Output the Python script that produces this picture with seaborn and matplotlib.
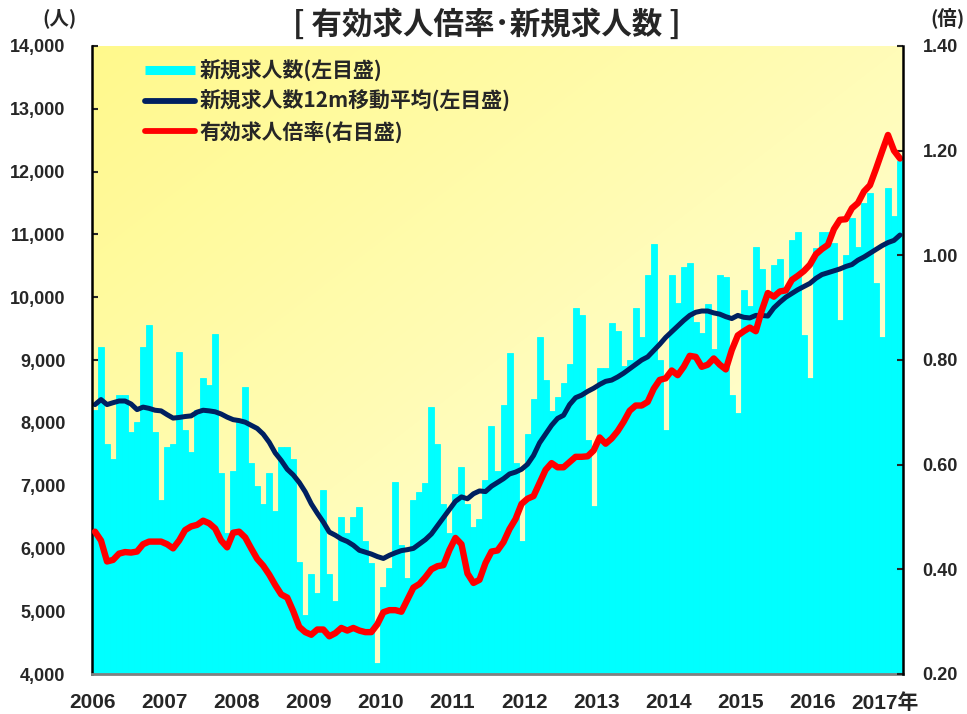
import numpy as np
import pandas as pd
import matplotlib
matplotlib.use("Agg")
import matplotlib.pyplot as plt
import seaborn as sns
from matplotlib.lines import Line2D
from matplotlib.ticker import FuncFormatter

# monthly data, 2006-01 .. 2017-03
new_jobs = [
    8200, 9200, 7660, 7420, 8440, 8440, 7860, 8020, 9200, 9560, 7860, 6770,
    7620, 7660, 9130, 7890, 7530, 8210, 8710, 8600, 9420, 7195, 6240, 7230,
    8010, 8575, 7355, 6994, 6707, 7195, 6600, 7620, 7620, 7420, 5790, 4940,
    5587, 5295, 6930, 5587, 5162, 6505, 6250, 6505, 6665, 6118, 5762, 4180,
    5390, 5693, 7063, 6054, 5523, 6771, 6893, 7036, 8246, 7657, 6707, 6240,
    6866, 7291, 6707, 6346, 6468, 7089, 7949, 7233, 8278, 9106, 7355, 6118,
    7816, 8374, 9361, 8682, 8188, 8416, 8639, 8936, 9823, 9717, 7726, 6675,
    8867, 8867, 9584, 9462, 8900, 9000, 9823, 9372, 10354, 10842, 9000, 7886,
    10354, 9903, 10486, 10540, 9600, 9435, 9892, 9170, 10354, 10317, 8443, 8151,
    10115, 9860, 10805, 10444, 10100, 10513, 10603, 10168, 10911, 11033, 9398, 8708,
    10778, 11033, 11033, 10869, 9637, 10672, 11267, 10805, 11505, 11654, 10221, 9372,
    11734, 11298, 12174,
]

new_jobs_ma = [
    8290, 8370, 8290, 8320, 8347, 8347, 8300, 8210, 8250, 8230, 8200, 8190,
    8130, 8075, 8085, 8100, 8110, 8170, 8200, 8190, 8175, 8140, 8090, 8050,
    8035, 8010, 7960, 7910, 7820, 7690, 7520, 7400, 7260, 7170, 7050, 6900,
    6710, 6560, 6420, 6260, 6210, 6150, 6110, 6050, 5970, 5940, 5910, 5870,
    5840, 5890, 5930, 5965, 5980, 6000, 6070, 6140, 6230, 6360, 6490, 6620,
    6750, 6820, 6790, 6870, 6915, 6905, 6990, 7050, 7110, 7185, 7215, 7260,
    7340, 7480, 7680, 7820, 7960, 8070, 8120, 8290, 8400, 8440, 8500, 8550,
    8610, 8660, 8680, 8730, 8790, 8860, 8930, 9000, 9050, 9150, 9250, 9360,
    9450, 9540, 9630, 9710, 9760, 9780, 9780, 9750, 9730, 9690, 9660, 9710,
    9680, 9670, 9710, 9710, 9700, 9830, 9920, 10000, 10060, 10120, 10170, 10220,
    10300, 10360, 10390, 10420, 10450, 10490, 10520, 10590, 10640, 10700, 10760, 10820,
    10870, 10905, 10990,
]

job_ratio = [
    0.472, 0.455, 0.415, 0.418, 0.430, 0.433, 0.432, 0.434, 0.448, 0.453, 0.453, 0.453,
    0.448, 0.440, 0.455, 0.475, 0.482, 0.485, 0.493, 0.488, 0.478, 0.455, 0.442, 0.470,
    0.472, 0.461, 0.440, 0.420, 0.407, 0.390, 0.370, 0.352, 0.346, 0.320, 0.290, 0.280,
    0.275, 0.285, 0.285, 0.272, 0.278, 0.288, 0.283, 0.288, 0.283, 0.280, 0.280, 0.295,
    0.318, 0.322, 0.322, 0.319, 0.342, 0.365, 0.372, 0.385, 0.400, 0.406, 0.408, 0.437,
    0.460, 0.448, 0.392, 0.374, 0.380, 0.412, 0.434, 0.436, 0.452, 0.477, 0.496, 0.525,
    0.535, 0.540, 0.565, 0.590, 0.603, 0.595, 0.595, 0.605, 0.615, 0.615, 0.616, 0.627,
    0.652, 0.640, 0.650, 0.664, 0.682, 0.703, 0.713, 0.713, 0.720, 0.745, 0.762, 0.765,
    0.780, 0.771, 0.787, 0.808, 0.806, 0.787, 0.791, 0.803, 0.791, 0.782, 0.819, 0.847,
    0.855, 0.862, 0.855, 0.895, 0.928, 0.921, 0.931, 0.933, 0.953, 0.961, 0.970, 0.982,
    1.002, 1.012, 1.020, 1.050, 1.068, 1.069, 1.090, 1.100, 1.122, 1.134, 1.165, 1.198,
    1.230, 1.200, 1.185,
]

year_labels = ["2006", "2007", "2008", "2009", "2010", "2011",
               "2012", "2013", "2014", "2015", "2016", "2017年"]

legend_labels = ["新規求人数(左目盛)", "新規求人数12m移動平均(左目盛)", "有効求人倍率(右目盛)"]

df = pd.DataFrame({
    "month": np.arange(len(new_jobs)),
    "new": new_jobs,
    "ma": new_jobs_ma,
    "ratio": job_ratio,
})

sns.set_style("white")
plt.rcParams["font.family"] = ["Liberation Sans", "Noto Sans CJK JP", "DejaVu Sans"]
plt.rcParams["font.weight"] = "bold"

fig = plt.figure(figsize=(9.67, 7.14), dpi=100)
pos = [92 / 967, 40 / 714, 811 / 967, 628 / 714]

# gradient background behind the plot area
bg = fig.add_axes(pos, zorder=0)
gx, gy = np.meshgrid(np.linspace(0, 1, 300), np.linspace(0, 1, 300))
t = ((gx + gy) / 2)[..., None]
c0 = np.array([255, 249, 140]) / 255
c1 = np.array([255, 255, 228]) / 255
bg.imshow(c0 * (1 - t) + c1 * t, aspect="auto", extent=(0, 1, 0, 1))
bg.axis("off")

ax = fig.add_axes(pos, zorder=1)
ax.patch.set_visible(False)

sns.barplot(data=df, x="month", y="new", color="#00FFFF", saturation=1,
            width=1, errorbar=None, linewidth=0.6, edgecolor="#00FFFF", ax=ax)
sns.lineplot(data=df, x="month", y="ma", color="#002060", linewidth=3.6,
             solid_capstyle="round", solid_joinstyle="round", ax=ax)

ax2 = ax.twinx()
sns.lineplot(data=df, x="month", y="ratio", color="#FF0000", linewidth=4.6,
             solid_capstyle="round", solid_joinstyle="round", ax=ax2)

ax.set_xlim(-0.5, len(new_jobs) - 0.5)
ax.set_ylim(4000, 14000)
ax2.set_ylim(0.2, 1.4)

ax.set_yticks(range(4000, 14001, 1000))
ax.yaxis.set_major_formatter(FuncFormatter(lambda v, p: f"{int(v):,}"))
ax2.set_yticks(np.arange(0.2, 1.41, 0.2))
ax2.yaxis.set_major_formatter(FuncFormatter(lambda v, p: f"{v:.2f}"))

ax.set_xticks([12 * k - 0.5 for k in range(11)] + [131.5])
ax.set_xticklabels(year_labels)
ax.tick_params(axis="x", length=0, pad=14, labelsize=15)
ax.tick_params(axis="y", direction="in", length=4, width=1.5, pad=19, labelsize=13)
ax2.tick_params(axis="y", direction="in", length=4, width=1.5, pad=14, labelsize=13)

for a in (ax, ax2):
    a.set_xlabel("")
    a.set_ylabel("")
    a.grid(False)

ax.spines["top"].set_visible(False)
ax.spines["right"].set_visible(False)
ax.spines["left"].set_color("black")
ax.spines["left"].set_linewidth(1.8)
ax.spines["bottom"].set_color("#808080")
ax.spines["bottom"].set_linewidth(2)
for s in ("top", "left", "bottom"):
    ax2.spines[s].set_visible(False)
ax2.spines["right"].set_color("black")
ax2.spines["right"].set_linewidth(1.8)

handles = [
    Line2D([], [], color="#00FFFF", lw=6.5, solid_capstyle="butt"),
    Line2D([], [], color="#002060", lw=4.2, solid_capstyle="round"),
    Line2D([], [], color="#FF0000", lw=4.2, solid_capstyle="round"),
]
ax2.legend(handles, legend_labels, loc="upper left", bbox_to_anchor=(0.065, 0.978),
           frameon=False, prop={"family": ["Noto Sans CJK JP"], "weight": "bold", "size": 15},
           handlelength=2.4, handletextpad=0.25, labelspacing=0.4,
           borderpad=0, borderaxespad=0)

fig.text(0.503, 1 - 25 / 714, "[ 有効求人倍率･新規求人数 ]", ha="center", va="center",
         fontsize=22, fontweight="bold", family=["Noto Sans CJK JP"])
fig.text(60 / 967, 1 - 18 / 714, "(人)", ha="center", va="center",
         fontsize=14, fontweight="bold", family=["Noto Sans CJK JP"])
fig.text(948 / 967, 1 - 18 / 714, "(倍)", ha="center", va="center",
         fontsize=14, fontweight="bold", family=["Noto Sans CJK JP"])

fig.savefig("out.png", dpi=100)
